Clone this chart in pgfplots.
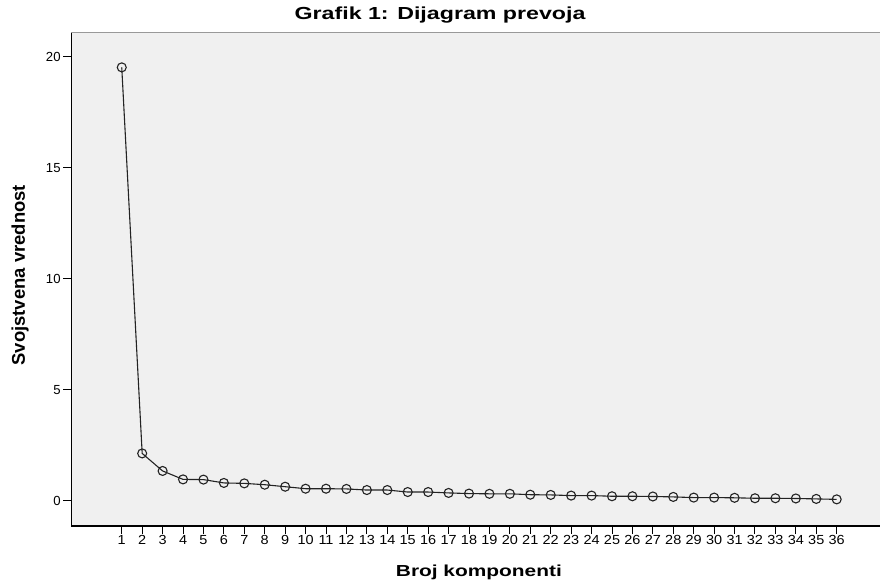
\documentclass[border=0pt]{standalone}
\usepackage{fontspec}
\setmainfont{Liberation Sans}
\usepackage{pgfplots}
\pgfplotsset{compat=1.18}
\definecolor{bg}{RGB}{240,240,240}
\definecolor{ln}{RGB}{35,35,35}
\begin{document}
\begin{tikzpicture}
\useasboundingbox (-71.3bp,-55bp) rectangle (808.7bp,526bp);
\begin{axis}[
  at={(0,0)}, anchor=south west,
  scale only axis, width=808.7bp, height=493.7bp,
  xmin=-1.47, xmax=38.12, ymin=-1.14, ymax=21.1,
  axis lines=left,
  axis line style={-, black, line width=1.1bp},
  every outer x axis line/.append style={-},
  every outer y axis line/.append style={-},
  axis background/.style={fill=bg},
  xtick={1,...,36}, ytick={0,5,10,15,20},
  tick align=outside, major tick length=8bp,
  tick style={black, line width=1bp},
  /pgf/number format/assume math mode=true,
  ticklabel style={font=\fontsize{13.2}{15}\selectfont},
  xticklabel style={xscale=1.1, inner sep=1bp},
  yticklabel style={inner sep=2.5bp},
  title={Grafik 1: Dijagram prevoja},
  title style={at={(0.456,1)}, anchor=base, yshift=6.8bp, font=\fontsize{17.5}{20}\selectfont\bfseries, xscale=1.33, inner sep=0pt},
  xlabel={Broj komponenti},
  xlabel style={at={(0.504,0)}, anchor=base, yshift=-50.7bp, font=\fontsize{16}{18}\selectfont\bfseries, xscale=1.31, inner sep=0pt},
  ylabel={Svojstvena vrednost},
  ylabel style={at={(axis description cs:-0.0573,0.508)}, anchor=base, font=\fontsize{18.5}{20}\selectfont\bfseries, inner sep=0pt},
  clip=false,
]
\addplot[color=ln, line width=1.1bp, mark=o, mark size=4.5bp, mark options={line width=1.1bp, ln}] coordinates {
(1,19.52) (2,2.13) (3,1.34) (4,0.96) (5,0.95) (6,0.80) (7,0.78) (8,0.72) (9,0.63)
(10,0.54) (11,0.54) (12,0.53) (13,0.48) (14,0.48) (15,0.39) (16,0.39) (17,0.35)
(18,0.32) (19,0.31) (20,0.31) (21,0.27) (22,0.26) (23,0.23) (24,0.23) (25,0.20)
(26,0.20) (27,0.19) (28,0.17) (29,0.14) (30,0.14) (31,0.13) (32,0.11) (33,0.11)
(34,0.10) (35,0.08) (36,0.06)
};
\draw[color=gray!80, line width=1.5bp] (rel axis cs:0,1) -- (rel axis cs:1,1);
\end{axis}
\end{tikzpicture}
\end{document}
